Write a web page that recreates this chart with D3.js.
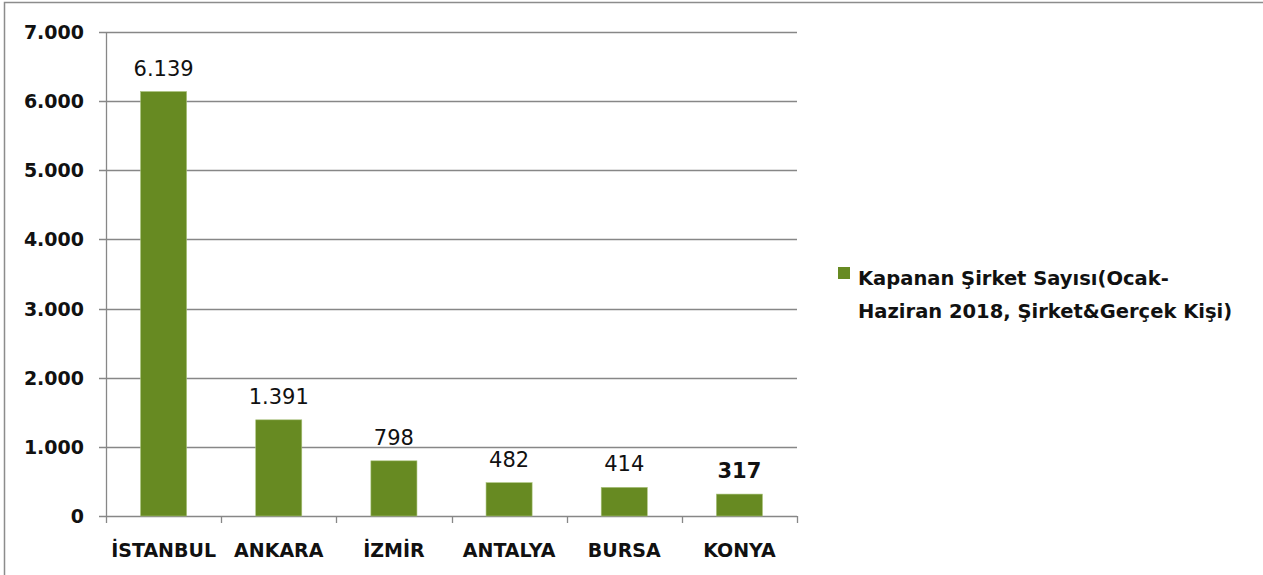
<!DOCTYPE html>
<html><head><meta charset="utf-8">
<script src="https://cdn.jsdelivr.net/npm/d3@7"></script>
<style>body{margin:0;background:#fff;} svg{display:block;}</style>
</head><body>
<svg id="c" width="1263" height="575"></svg>
<script>
const categories = ["İSTANBUL","ANKARA","İZMİR","ANTALYA","BURSA","KONYA"];
const values = [6139,1391,798,482,414,317];
const valueLabels = ["6.139","1.391","798","482","414","317"];
const boldLabel = [false,false,false,false,false,true];
const yTicks = [0,1000,2000,3000,4000,5000,6000,7000];
const yTickLabels = ["0","1.000","2.000","3.000","4.000","5.000","6.000","7.000"];
const seriesName = ["Kapanan Şirket Sayısı(Ocak-","Haziran 2018, Şirket&Gerçek Kişi)"];

(function(){
const svg = d3.select("#c");
const font = "'DejaVu Sans', sans-serif";
const barColor = "#678A22";
const gridColor = "#878787";

// outer frame (top and left edges visible)
svg.append("path").attr("d","M4.5,575 V2.5 H1263")
  .attr("fill","none").attr("stroke","#8c8c8c").attr("stroke-width",1.5);

const pLeft=106, pRight=797, pTop=32, pBottom=516;
const x = d3.scaleBand().domain(categories).range([pLeft,pRight]).paddingInner(0.6).paddingOuter(0.3);
const y = d3.scaleLinear().domain([0,7000]).range([pBottom,pTop]);

svg.append("g").selectAll("line").data(yTicks).join("line")
  .attr("x1",pLeft-7).attr("x2",pRight).attr("y1",d=>Math.round(y(d))+0.5).attr("y2",d=>Math.round(y(d))+0.5)
  .attr("stroke",gridColor).attr("stroke-width",1.3);

svg.append("line").attr("x1",pLeft+0.5).attr("x2",pLeft+0.5).attr("y1",pTop).attr("y2",pBottom)
  .attr("stroke",gridColor).attr("stroke-width",1.3);

const step = (pRight-pLeft)/categories.length;
const xt = d3.range(categories.length+1).map(i=>pLeft+i*step);
svg.append("g").selectAll("line").data(xt).join("line")
  .attr("x1",d=>Math.round(d)+0.5).attr("x2",d=>Math.round(d)+0.5).attr("y1",pBottom).attr("y2",pBottom+7)
  .attr("stroke",gridColor).attr("stroke-width",1.3);

svg.append("g").selectAll("rect").data(values).join("rect")
  .attr("x",(d,i)=>x(categories[i])).attr("width",x.bandwidth())
  .attr("y",d=>y(d)).attr("height",d=>pBottom-y(d))
  .attr("fill",barColor).attr("stroke","#a9c27a").attr("stroke-width",0.6);

svg.append("g").selectAll("text").data(values).join("text")
  .attr("x",(d,i)=>x(categories[i])+x.bandwidth()/2).attr("y",d=>y(d)-16)
  .attr("text-anchor","middle").attr("font-family",font).attr("font-size",21)
  .attr("font-weight",(d,i)=>boldLabel[i]?"bold":"normal").attr("fill","#111")
  .text((d,i)=>valueLabels[i]);

svg.append("g").selectAll("text").data(yTicks).join("text")
  .attr("x",84).attr("y",d=>y(d)+7).attr("text-anchor","end")
  .attr("font-family",font).attr("font-size",19).attr("font-weight","bold").attr("fill","#111")
  .text((d,i)=>yTickLabels[i]);

svg.append("g").selectAll("text").data(categories).join("text")
  .attr("x",d=>x(d)+x.bandwidth()/2).attr("y",557).attr("text-anchor","middle")
  .attr("font-family",font).attr("font-size",19).attr("font-weight","bold").attr("fill","#111")
  .text(d=>d);

svg.append("rect").attr("x",838).attr("y",267).attr("width",12).attr("height",12).attr("fill",barColor);
svg.append("g").selectAll("text").data(seriesName).join("text")
  .attr("x",858).attr("y",(d,i)=>285+i*33)
  .attr("font-family",font).attr("font-size",19.5).attr("font-weight","bold").attr("fill","#111")
  .text(d=>d);
})();
</script>
</body></html>
